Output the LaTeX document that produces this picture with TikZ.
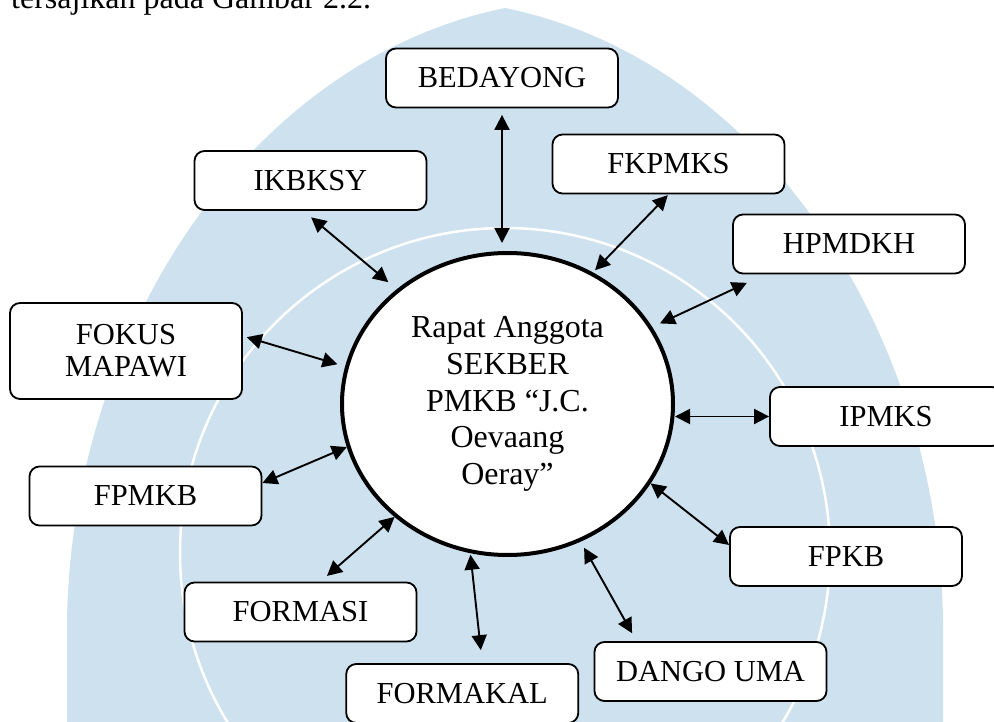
\documentclass[tikz,border=0pt]{standalone}
\usepackage{fontspec}
\setmainfont{Liberation Serif}
\usetikzlibrary{shapes.geometric,arrows.meta,calc}
\definecolor{wmblue}{RGB}{205,225,238}
\begin{document}
\begin{tikzpicture}[x=1pt,y=-1pt,
  box/.style={draw, line width=1.8pt, rounded corners=10pt, fill=white,
    minimum width=232pt, minimum height=59pt, inner sep=2pt, align=center,
    font=\fontsize{30.5}{32}\selectfont},
  conn/.style={{Triangle[length=15pt,width=15pt]}-{Triangle[length=15pt,width=15pt]}, line width=1.9pt},
  wm/.style={fill=wmblue},
  ring/.style={draw=white, line width=2.5pt}]
\useasboundingbox (0,0) rectangle (994,722);
\clip (0,0) rectangle (994,722);
% watermark
\def\shield{(67,740) -- (67,620) .. controls (72,330) and (250,60) .. (505,8)
   .. controls (760,60) and (938,330) .. (943,620) -- (943,740) -- cycle}
\path[wm] \shield;
\begin{scope}
  \clip \shield;
  \path[ring] (505,553) circle[radius=325];
\end{scope}
% caption text
\node[anchor=base west, font=\fontsize{32}{36}\selectfont, inner sep=0pt] (cap) at (11,9) {tersajikan pada Gambar 2.2.};
% nodes
\node[box] (bed) at (502,78) {BEDAYONG};
\node[box] (ikb) at (310.5,180.5) {IKBKSY};
\node[box] (fkp) at (668.5,164) {FKPMKS};
\node[box] (hpm) at (849,244) {HPMDKH};
\node[box, minimum height=96pt] (fok) at (126,351) {FOKUS\\MAPAWI};
\node[box] (ipm) at (886,416.5) {IPMKS};
\node[box] (fpm) at (145.5,496) {FPMKB};
\node[box] (fpk) at (846,556.5) {FPKB};
\node[box] (fms) at (300.5,612) {FORMASI};
\node[box] (dgo) at (710.5,671.5) {DANGO UMA};
\node[box] (fmk) at (462.25,693.5) {FORMAKAL};
\node[ellipse, draw, line width=4pt, fill=white, minimum width=331pt, minimum height=302pt,
  inner sep=0pt, align=center, font=\fontsize{32}{36.7}\selectfont] (ell) at (507.5,404)
  {Rapat Anggota\\SEKBER\\PMKB “J.C.\\Oevaang\\Oeray”};
% connectors
\draw[conn, shorten <=6.5pt, shorten >=8pt] (bed.south) -- (bed.south |- ell.north);
\draw[conn, shorten <=10pt, shorten >=11pt] ($(ikb.south)+(-7,0)$) -- (ell.134);
\draw[conn, shorten <=1pt, shorten >=3pt] (fkp.south) -- (ell.57.8);
\draw[conn, shorten <=20pt, shorten >=8.5pt] ($(hpm.south)+(-84,0)$) -- (ell.28);
\draw[conn, shorten <=4pt, shorten >=8pt] ($(fok.east)+(0,-15)$) -- (ell.167.7);
\draw[conn] (ipm.west) -- (ipm.west -| ell.east);
\draw[conn] ($(fpm.east)+(0,-13)$) -- (ell.195.8);
\draw[conn] ($(fpk.west)+(0,-11.5)$) -- (ell.331.7);
\draw[conn, shorten <=8.6pt] ($(fms.north)+(20,0)$) -- (ell.225.8);
\draw[conn, shorten <=13pt, shorten >=1.5pt] ($(fmk.north)+(20,0)$) -- (ell.256.7);
\draw[conn, shorten <=9pt, shorten >=7pt] ($(dgo.north)+(-74,0)$) -- (ell.298.8);
\end{tikzpicture}
\end{document}
